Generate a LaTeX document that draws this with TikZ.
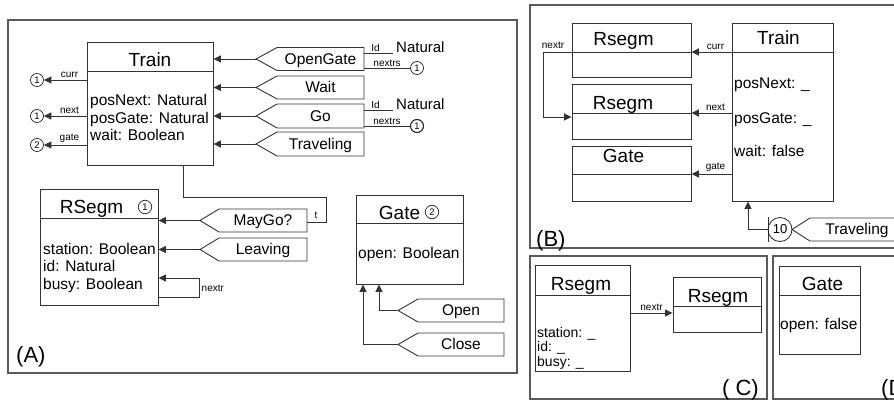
\documentclass[tikz,border=0pt]{standalone}
\usepackage{fontspec}
\setmainfont{Liberation Sans}
\usetikzlibrary{arrows.meta,fit}
\tikzset{
 frame/.style={draw=black!65, line width=1.3pt},
 cls/.style={draw=black!80, line width=0.9pt, inner sep=0pt},
 ln/.style={draw=black!80, line width=0.9pt},
 arr/.style={draw=black!80, line width=0.9pt, -{Triangle[length=7.5pt,width=7pt]}},
 ttl/.style={font=\fontsize{19}{22}\selectfont, anchor=base, inner sep=0pt},
 att/.style={font=\fontsize{15.5}{18}\selectfont, anchor=base west, inner sep=0pt},
 attc/.style={font=\fontsize{14}{16}\selectfont, anchor=base west, inner sep=0pt},
 sml/.style={font=\fontsize{10}{12}\selectfont, inner sep=1.5pt},
 num/.style={circle, draw=black!85, line width=0.7pt, inner sep=0pt, minimum size=13pt, font=\fontsize{9.5}{10}\selectfont},
 sigtxt/.style={font=\fontsize{15.5}{18}\selectfont, anchor=base, inner sep=0pt},
 plabel/.style={font=\fontsize{22}{24}\selectfont, inner sep=0pt},
}
\newcommand\mysig[7]{%
 \draw[ln] (#2,#3) -- ({#2+#4},{#3-#6}) -- (#5,{#3-#6}) -- (#5,{#3+#6}) -- ({#2+#4},{#3+#6}) -- cycle;
 \coordinate (#1) at (#2,#3);
 \coordinate (#1-e) at (#5,#3);
 \node[sigtxt] (#1-t) at ({(#2+#4+#5)/2},{#3+5.4}) {#7};
}
\begin{document}
\begin{tikzpicture}[x=1pt,y=-1pt]
\useasboundingbox (0,0) rectangle (894,401);
\clip (0,0) rectangle (894,401);

% ================= Panel A =================
\draw[frame] (8,20) rectangle (517,373);
\node[plabel, anchor=base west] (labA) at (16,362) {(A)};

% Train
\node[cls, fit={(87,42)(213,165)}] (train) {};
\draw[ln] (87,71) -- (213,71);
\node[ttl] (trainT) at (150,66.5) {Train};
\node[att] (tA1) at (90,106) {posNext: Natural};
\node[att] (tA2) at (90,123.5) {posGate: Natural};
\node[att] (tA3) at (90,141) {wait: Boolean};

\node[num] (c1) at (37,80) {1};
\node[num] (c2) at (37,116) {1};
\node[num] (c3) at (37,145) {2};
\draw[arr] (train.west |- c1) -- node[sml, above, pos=0.4] {curr} (c1);
\draw[arr] (train.west |- c2) -- node[sml, above, pos=0.4] {next} (c2);
\draw[arr] (train.west |- c3) -- node[sml, above, pos=0.4] {gate} (c3);

% signals into Train
\mysig{og}{256}{59}{21}{364}{11.5}{OpenGate}
\mysig{wt}{256}{87.5}{21}{364}{11.5}{Wait}
\mysig{go}{256}{116}{21}{364}{12}{Go}
\mysig{tr}{256}{144}{21}{364}{12}{Traveling}
\draw[arr] (og) -- (train.east |- og);
\draw[arr] (wt) -- (train.east |- wt);
\draw[arr] (go) -- (train.east |- go);
\draw[arr] (tr) -- (train.east |- tr);

% OpenGate parameters
\coordinate (ogId) at (393,53);
\draw[ln, line width=0.7pt] (og-e |- ogId) -- node[sml, above, pos=0.4] {Id} (ogId);
\node[font=\fontsize{15}{17}\selectfont, anchor=base west, inner sep=0pt] (ogNat) at (396,53) {Natural};
\node[num] (ogc) at (417,68) {1};
\draw[ln, line width=0.7pt] (og-e |- ogc) -- node[sml, above, pos=0.5] {nextrs} (ogc);
% Go parameters
\coordinate (goId) at (393,110);
\draw[ln, line width=0.7pt] (go-e |- goId) -- node[sml, above, pos=0.4] {Id} (goId);
\node[font=\fontsize{15}{17}\selectfont, anchor=base west, inner sep=0pt] (goNat) at (396,110) {Natural};
\node[num, line width=1.1pt] (goc) at (417,126) {1};
\draw[ln, line width=0.7pt] (go-e |- goc) -- node[sml, above, pos=0.5] {nextrs} (goc);

% RSegm
\node[cls, fit={(40,189)(158,305)}] (rseg) {};
\draw[ln] (40,218) -- (158,218);
\node[ttl] (rsegT) at (91.5,213) {RSegm};
\node[num, minimum size=13.5pt] (rsegN) at (145,207) {1};
\node[att] (rA1) at (43,254) {station: Boolean};
\node[att] (rA2) at (43,271.5) {id: Natural};
\node[att] (rA3) at (43,289) {busy: Boolean};

\mysig{mg}{200}{220.5}{19}{307}{11.5}{MayGo?}
\mysig{lv}{200}{249.5}{19}{307}{11.5}{Leaving}
\draw[arr] (mg) -- (rseg.east |- mg);
\draw[arr] (lv) -- (rseg.east |- lv);

% Train -> MayGo? (t)
\draw[ln] (train.south -| 183,0) -- (183,197) -- (326,197) -- (326,222) -- (mg-e |- 0,222);
\node[sml] (tlab) at (316,215) {t};

% self loop nextr
\coordinate (lp1) at (199,297);
\draw[arr] (rseg.east |- lp1) -- (lp1) -- (199,278) -- (rseg.east |- 0,278);
\node[sml, anchor=west] (nextrA) at (200,288) {nextr};

% Gate (A)
\node[cls, fit={(356,195)(463,284)}] (gate) {};
\draw[ln] (356,223) -- (463,223);
\node[ttl] (gateT) at (399.5,219) {Gate};
\node[num, minimum size=13.5pt] (gateN) at (432,212) {2};
\node[att] (gA1) at (358,258) {open: Boolean};

\mysig{op}{398}{310.5}{20}{504}{11.5}{Open}
\mysig{cl}{398}{344.5}{20}{504}{11.5}{Close}
\draw[arr] (op) -| (gate.south -| 379,0);
\draw[arr] (cl) -| (gate.south -| 363,0);

% ================= Panel B =================
\draw[frame] (530,5) rectangle (920,248);
\node[plabel, anchor=base west] (labB) at (536,246) {(B)};

\node[cls, fit={(572,23)(691,77)}] (rsB1) {};
\draw[ln] (572,52) -- (691,52);
\node[ttl] (rsB1T) at (623.5,45.5) {Rsegm};
\node[cls, fit={(572,84)(691,139)}] (rsB2) {};
\draw[ln] (572,113) -- (691,113);
\node[ttl] (rsB2T) at (623,109.5) {Rsegm};
\node[cls, fit={(572,146)(691,201)}] (gtB) {};
\draw[ln] (572,174) -- (691,174);
\node[ttl] (gtBT) at (623.5,162.5) {Gate};

\node[cls, fit={(732,23)(833,201)}] (trB) {};
\draw[ln] (732,52) -- (833,52);
\node[ttl] (trBT) at (778.5,45) {Train};
\node[att] (bA1) at (734,89) {posNext: \_};
\node[att] (bA2) at (734,123.5) {posGate: \_};
\node[att] (bA3) at (734,157) {wait: false};

\draw[arr] (trB.west |- 0,52) -- node[sml, above, pos=0.4] {curr} (rsB1.east |- 0,52);
\draw[arr] (trB.west |- 0,113) -- node[sml, above, pos=0.4] {next} (rsB2.east |- 0,113);
\draw[arr] (trB.west |- 0,174) -- node[sml, above, pos=0.4] {gate} (gtB.east |- 0,174);

\coordinate (nxB) at (543,52);
\draw[arr] (rsB1.west |- nxB) -- (nxB) |- (rsB2.west |- 0,117);
\node[sml] (nextrB) at (553,45) {nextr};

% Traveling with delay 10
\coordinate (barB) at (768,229.5);
\draw[ln] (768,217) -- (768,242);
\node[circle, draw=black!85, line width=0.8pt, minimum size=24pt, inner sep=0pt, font=\fontsize{13}{15}\selectfont] (ten) at (780,229.5) {10};
\mysig{trv}{792}{229.5}{18}{904}{11.5}{Traveling}
\draw[arr] (barB) -| (trB.south -| 748,0);

% ================= Panel C =================
\draw[frame] (530,256) rectangle (767,399);
\node[plabel, anchor=base east] (labC) at (759,395) {( C)};

\node[cls, fit={(535,265)(630,371)}] (rsC1) {};
\draw[ln] (535,295) -- (630,295);
\node[ttl] (rsC1T) at (581,290) {Rsegm};
\node[attc] (cA1) at (537,337) {station: \_};
\node[attc] (cA2) at (537,351.5) {id: \_};
\node[attc] (cA3) at (537,366) {busy: \_};

\node[cls, fit={(673,277)(761,332)}] (rsC2) {};
\draw[ln] (673,306) -- (761,306);
\node[ttl] (rsC2T) at (718,302) {Rsegm};
\draw[arr] (rsC1.east |- 0,313) -- node[sml, above] {nextr} (rsC2.west |- 0,313);

% ================= Panel D =================
\draw[frame] (773,256) rectangle (920,399);
\node[plabel, anchor=base west] (labD) at (881,395) {(D)};
\node[cls, fit={(779,266)(860,354)}] (gtD) {};
\draw[ln] (779,295) -- (860,295);
\node[ttl] (gtDT) at (822.5,290) {Gate};
\node[att] (dA1) at (780,329) {open: false};
\end{tikzpicture}
\end{document}
